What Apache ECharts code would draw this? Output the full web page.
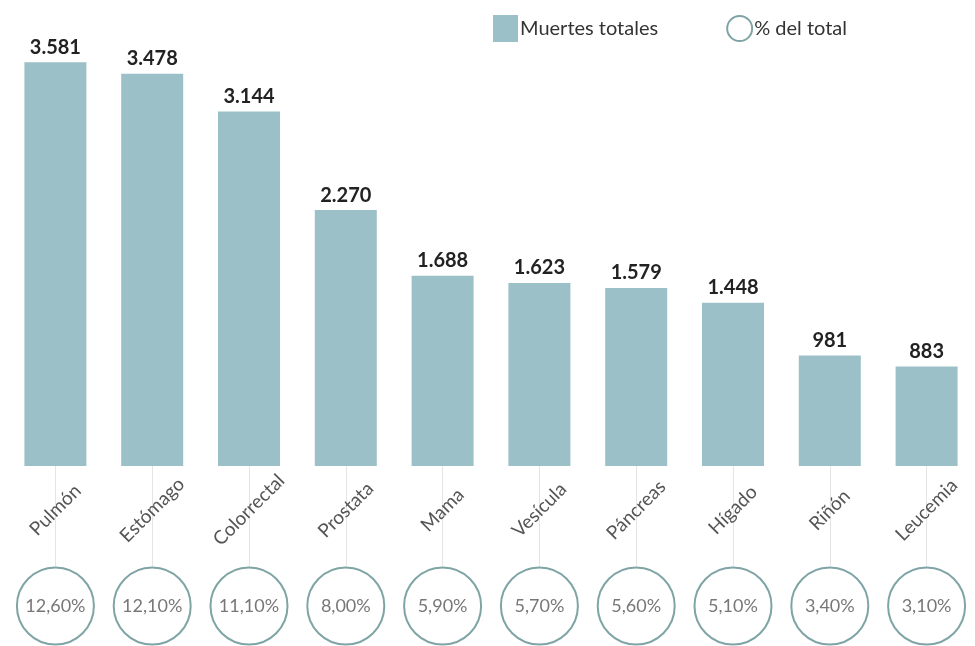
<!DOCTYPE html>
<html><head><meta charset="utf-8">
<script src="https://cdn.jsdelivr.net/npm/echarts@6/dist/echarts.min.js"></script>
<style>html,body{margin:0;padding:0;background:#fff}#c{width:975px;height:646px}</style>
</head><body><div id="c"></div>
<script>
const categories = ['Pulmón','Estómago','Colorrectal','Prostata','Mama','Vesícula','Páncreas','Hígado','Riñón','Leucemia'];
const deaths = [3581,3478,3144,2270,1688,1623,1579,1448,981,883];
const pctLabels = ['12,60%','12,10%','11,10%','8,00%','5,90%','5,70%','5,60%','5,10%','3,40%','3,10%'];
const seriesNames = ['Muertes totales','% del total'];

const FONT = 'Lato, "Open Sans", sans-serif';
const chart = echarts.init(document.getElementById('c'), null, {renderer:'canvas'});
chart.setOption({
  backgroundColor:'#fff',
  animation:false,
  textStyle:{fontFamily:FONT},
  legend:{
    left:488, top:10, itemWidth:25, itemHeight:27, itemGap:68,
    textStyle:{fontSize:20, color:'#333', fontFamily:FONT, padding:[0,0,0,-3]},
    data:[{name:seriesNames[0], icon:'rect'},{name:seriesNames[1], icon:'circle'}]
  },
  grid:[
    {left:7, width:982, top:15, height:451},
    {left:7, width:982, top:567, height:78}
  ],
  xAxis:[
    {type:'category', gridIndex:0, data:categories,
     axisLine:{show:false},
     axisTick:{show:true, alignWithLabel:true, length:100, lineStyle:{color:'#e4e4e4', width:1}},
     axisLabel:{rotate:45, align:'center', verticalAlign:'middle', margin:44, fontSize:19, color:'#555', fontFamily:FONT}},
    {type:'category', gridIndex:1, data:categories, show:false}
  ],
  yAxis:[
    {type:'value', gridIndex:0, min:0, max:4000, show:false, splitLine:{show:false}},
    {type:'value', gridIndex:1, min:0, max:1, show:false, splitLine:{show:false}}
  ],
  series:[
    {name:seriesNames[0], type:'bar', xAxisIndex:0, yAxisIndex:0, data:deaths, barWidth:62,
     itemStyle:{color:'#9cc0c7'},
     label:{show:true, position:'top', distance:5, fontSize:20, fontWeight:'bold', color:'#222', fontFamily:FONT,
       formatter:p=>p.value.toLocaleString('de-DE')}},
    {name:seriesNames[1], type:'scatter', xAxisIndex:1, yAxisIndex:1,
     data:categories.map((c,i)=>[c,0.5]),
     symbol:'circle', symbolSize:77,
     itemStyle:{color:'#fff', borderColor:'#5f8d8f', borderWidth:2},
     label:{show:true, position:'inside', fontSize:18, color:'#555', fontFamily:FONT,
       formatter:p=>pctLabels[p.dataIndex]}}
  ]
});
</script></body></html>
